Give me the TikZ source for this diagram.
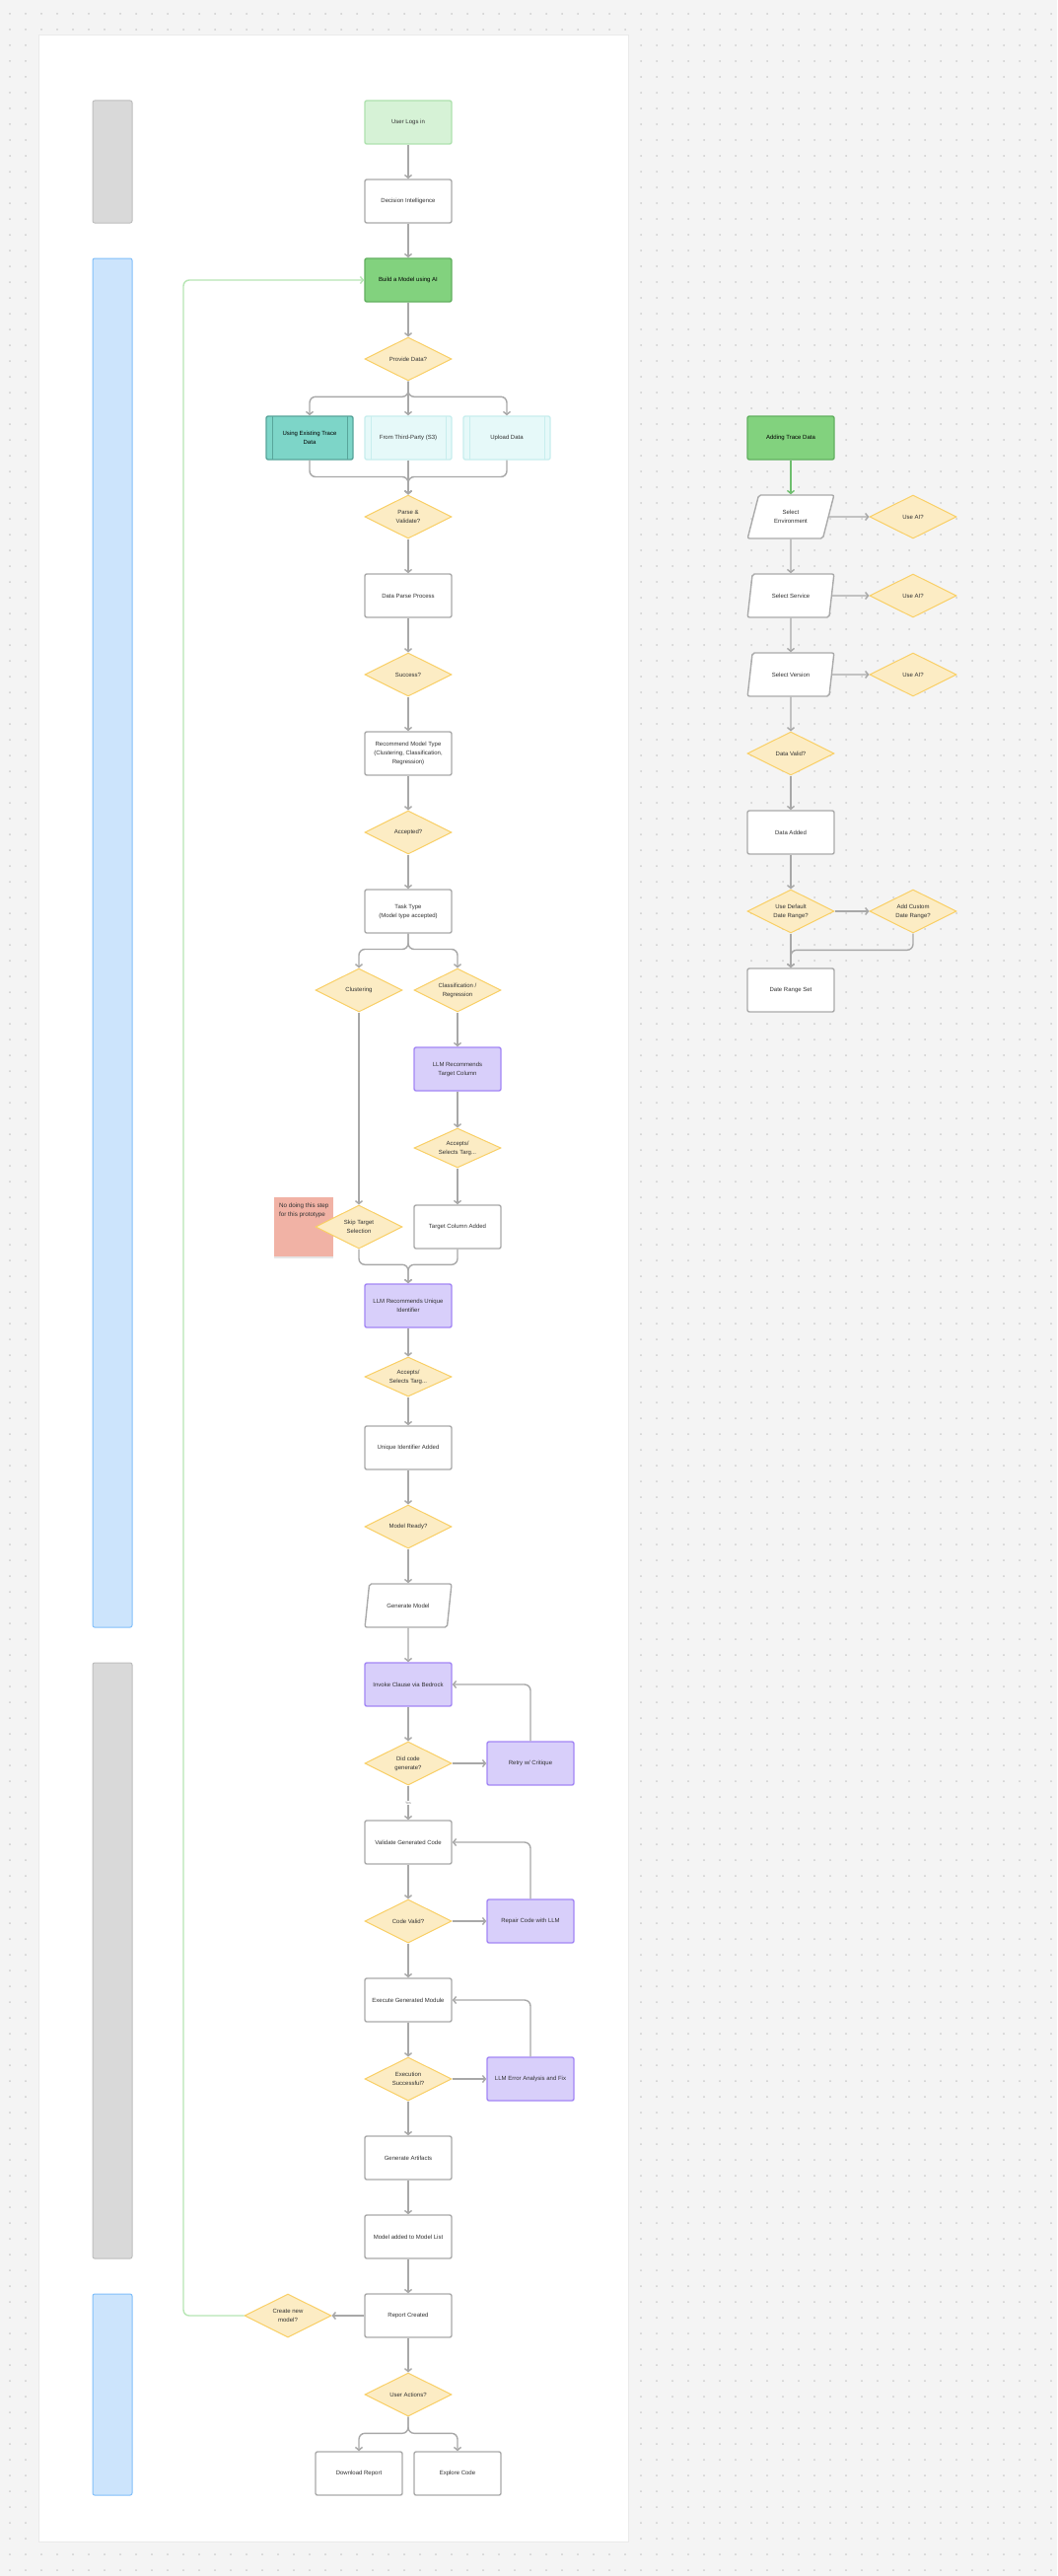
\documentclass[tikz,border=0pt]{standalone}
\usepackage{fontspec}
\setmainfont{Liberation Sans}
\usetikzlibrary{arrows.meta, shapes.geometric, shadows}
\definecolor{bg}{RGB}{244,244,244}
\definecolor{dotc}{RGB}{205,205,205}
\definecolor{panelline}{RGB}{234,234,234}
\definecolor{linegray}{RGB}{168,168,168}
\definecolor{boxline}{RGB}{170,170,170}
\definecolor{ink}{RGB}{51,51,51}
\definecolor{askfill}{RGB}{252,236,196}
\definecolor{askline}{RGB}{249,207,101}
\definecolor{startfill}{RGB}{214,242,214}
\definecolor{startline}{RGB}{175,226,175}
\definecolor{actfill}{RGB}{130,210,126}
\definecolor{actline}{RGB}{98,176,96}
\definecolor{tealfill}{RGB}{125,213,200}
\definecolor{tealline}{RGB}{88,165,155}
\definecolor{cyanfill}{RGB}{230,249,249}
\definecolor{cyanline}{RGB}{200,238,238}
\definecolor{llmfill}{RGB}{216,207,250}
\definecolor{llmline}{RGB}{163,134,245}
\definecolor{grayfill}{RGB}{217,217,217}
\definecolor{grayline}{RGB}{190,190,190}
\definecolor{bluefill}{RGB}{204,228,252}
\definecolor{blueline}{RGB}{130,192,250}
\definecolor{notefill}{RGB}{241,178,165}
\definecolor{loopgreen}{RGB}{183,230,180}
\definecolor{greenline}{RGB}{110,190,110}

\begin{document}
\begin{tikzpicture}[x=1pt,y=-1pt,->,>={Straight Barb[length=3pt,width=7pt]},
                    line width=1.4pt,font=\fontsize{6}{9}\selectfont]
  \tikzstyle{every edge}=[draw=linegray]
  \tikzstyle{link}=[draw=linegray,rounded corners=6]
  \tikzstyle{loopback}=[draw=loopgreen,rounded corners=6]
  \tikzstyle{box}=[rectangle,rounded corners=2,draw=boxline,fill=white,text=ink,
                   minimum width=88,minimum height=44,inner sep=2,align=center]
  \tikzstyle{start}=[box,draw=startline,fill=startfill]
  \tikzstyle{action}=[box,draw=actline,fill=actfill,text=black]
  \tikzstyle{llm}=[box,draw=llmline,fill=llmfill]
  \tikzstyle{ask}=[diamond,aspect=2,draw=askline,fill=askfill,line width=1pt,text=ink,
                   minimum width=88,minimum height=44,inner sep=0,align=center]
  \tikzstyle{inputbox}=[trapezium,trapezium left angle=68,trapezium right angle=112,
                   trapezium stretches=true,rounded corners=2,draw=boxline,fill=white,
                   text=ink,minimum width=88,minimum height=44,inner sep=1,align=center]
  \tikzstyle{tealsource}=[box,draw=tealline,fill=tealfill,text=black,
                   path picture={\draw[-,line width=1pt,tealline]
                     ([xshift=6pt]path picture bounding box.north west) -- ([xshift=6pt]path picture bounding box.south west)
                     ([xshift=-6pt]path picture bounding box.north east) -- ([xshift=-6pt]path picture bounding box.south east);}]
  \tikzstyle{cyansource}=[box,draw=cyanline,fill=cyanfill,
                   path picture={\draw[-,line width=1pt,cyanline]
                     ([xshift=6pt]path picture bounding box.north west) -- ([xshift=6pt]path picture bounding box.south west)
                     ([xshift=-6pt]path picture bounding box.north east) -- ([xshift=-6pt]path picture bounding box.south east);}]
  \tikzstyle{lane}=[rectangle,rounded corners=2,line width=1pt,minimum width=40]
  \tikzstyle{sticky}=[rectangle,fill=notefill,minimum size=60,
                   drop shadow={opacity=0.2,shadow xshift=0pt,shadow yshift=-1.5pt}]
  \tikzstyle{notetext}=[align=left,text=ink,inner sep=0,font=\fontsize{6.3}{9}\selectfont]
  \tikzstyle{yes}=[fill=white,inner sep=1,text=gray,font=\fontsize{3.5}{4}\selectfont]

  \useasboundingbox (0,0) rectangle (1072,2612);
  \fill[bg] (0,0) rectangle (1072,2612);
  \foreach \r in {0,...,162}
    \draw[-,dotc,line width=2pt,line cap=round,dash pattern=on 0pt off 16pt] (10,{14+16*\r}) -- (1072,{14+16*\r});
  \filldraw[-,fill=white,draw=panelline,line width=0.6pt] (39,35) rectangle (637,2577);

  \node[lane,fill=grayfill,draw=grayline,minimum height=124]  (lanea) at (114,164)  {};
  \node[lane,fill=bluefill,draw=blueline,minimum height=1388] (laneb) at (114,956)  {};
  \node[lane,fill=grayfill,draw=grayline,minimum height=604]  (lanec) at (114,1988) {};
  \node[lane,fill=bluefill,draw=blueline,minimum height=204]  (laned) at (114,2428) {};

  \node[start]      (login)        at (414,124)  {User Logs in};
  \node[box]        (decision)     at (414,204)  {Decision Intelligence};
  \node[action]     (build)        at (414,284)  {Build a Model using AI};
  \node[ask]        (provide)      at (414,364)  {Provide Data?};
  \node[tealsource] (existing)     at (314,444)  {Using Existing Trace\\Data};
  \node[cyansource] (thirdparty)   at (414,444)  {From Third-Party (S3)};
  \node[cyansource] (upload)       at (514,444)  {Upload Data};
  \node[ask]        (parse)        at (414,524)  {Parse \&\\Validate?};
  \node[box]        (parseproc)    at (414,604)  {Data Parse Process};
  \node[ask]        (success)      at (414,684)  {Success?};
  \node[box]        (recommend)    at (414,764)  {Recommend Model Type\\(Clustering, Classification,\\Regression)};
  \node[ask]        (accepted)     at (414,844)  {Accepted?};
  \node[box]        (tasktype)     at (414,924)  {Task Type\\(Model type accepted)};
  \node[ask]        (clustering)   at (364,1004) {Clustering};
  \node[ask]        (classreg)     at (464,1004) {Classification /\\Regression};
  \node[llm]        (llmtarget)    at (464,1084) {LLM Recommends\\Target Column};
  \node[ask,minimum height=40] (accepttarget) at (464,1164) {Accepts/\\Selects Targ...};
  \node[box]        (targetadded)  at (464,1244) {Target Column Added};
  \node[sticky]     (note)         at (308,1244) {};
  \node[notetext,anchor=north west] (notetxt) at ([shift={(5pt,-6pt)}]note.north west) {No doing this step\\for this prototype};
  \node[ask]        (skip)         at (364,1244) {Skip Target\\Selection};
  \node[llm]        (llmunique)    at (414,1324) {LLM Recommends Unique\\Identifier};
  \node[ask,minimum height=40] (acceptunique) at (414,1396) {Accepts/\\Selects Targ...};
  \node[box]        (uniqueadded)  at (414,1468) {Unique Identifier Added};
  \node[ask]        (ready)        at (414,1548) {Model Ready?};
  \node[inputbox]   (generate)     at (414,1628) {Generate Model};
  \node[llm]        (invoke)       at (414,1708) {Invoke Clause via Bedrock};
  \node[ask]        (didcode)      at (414,1788) {Did code\\generate?};
  \node[llm]        (retry)        at (538,1788) {Retry w/ Critique};
  \node[box]        (validate)     at (414,1868) {Validate Generated Code};
  \node[ask]        (codevalid)    at (414,1948) {Code Valid?};
  \node[llm]        (repair)       at (538,1948) {Repair Code with LLM};
  \node[box]        (execute)      at (414,2028) {Execute Generated Module};
  \node[ask]        (execok)       at (414,2108) {Execution\\Successful?};
  \node[llm]        (errorfix)     at (538,2108) {LLM Error Analysis and Fix};
  \node[box]        (artifacts)    at (414,2188) {Generate Artifacts};
  \node[box]        (modellist)    at (414,2268) {Model added to Model List};
  \node[box]        (report)       at (414,2348) {Report Created};
  \node[ask]        (newmodel)     at (292,2348) {Create new\\model?};
  \node[ask]        (useractions)  at (414,2428) {User Actions?};
  \node[box]        (download)     at (364,2508) {Download Report};
  \node[box]        (explore)      at (464,2508) {Explore Code};
  \coordinate       (bend)         at (186,284);

  \node[action]     (addtrace)     at (802,444)  {Adding Trace Data};
  \node[inputbox]   (env)          at (802,524)  {Select\\Environment};
  \node[inputbox]   (service)      at (802,604)  {Select Service};
  \node[inputbox]   (version)      at (802,684)  {Select Version};
  \node[ask]        (aienv)        at (926,524)  {Use AI?};
  \node[ask]        (aiservice)    at (926,604)  {Use AI?};
  \node[ask]        (aiversion)    at (926,684)  {Use AI?};
  \node[ask]        (valid)        at (802,764)  {Data Valid?};
  \node[box]        (added)        at (802,844)  {Data Added};
  \node[ask]        (default)      at (802,924)  {Use Default\\Date Range?};
  \node[ask]        (custom)       at (926,924)  {Add Custom\\Date Range?};
  \node[box]        (rangeset)     at (802,1004) {Date Range Set};

  \path (login)        edge (decision)
        (decision)     edge (build)
        (build)        edge (provide)
        (provide)      edge (thirdparty)
        (thirdparty)   edge (parse)
        (parse)        edge (parseproc)
        (parseproc)    edge (success)
        (success)      edge (recommend)
        (recommend)    edge (accepted)
        (accepted)     edge (tasktype)
        (clustering)   edge (skip)
        (classreg)     edge (llmtarget)
        (llmtarget)    edge (accepttarget)
        (accepttarget) edge (targetadded)
        (llmunique)    edge (acceptunique)
        (acceptunique) edge (uniqueadded)
        (uniqueadded)  edge (ready)
        (ready)        edge (generate)
        (generate)     edge (invoke)
        (invoke)       edge (didcode)
        (didcode)      edge (retry)
                       edge node[yes] {Yes} (validate)
        (validate)     edge (codevalid)
        (codevalid)    edge (repair)
                       edge (execute)
        (execute)      edge (execok)
        (execok)       edge (errorfix)
                       edge (artifacts)
        (artifacts)    edge (modellist)
        (modellist)    edge (report)
        (report)       edge (newmodel)
                       edge (useractions);

  \path (addtrace)     edge[draw=greenline] (env)
        (env)          edge (aienv)
                       edge (service)
        (service)      edge (aiservice)
                       edge (version)
        (version)      edge (aiversion)
                       edge (valid)
        (valid)        edge (added)
        (added)        edge (default)
        (default)      edge (custom)
                       edge (rangeset);

  \draw[link] (provide.south) |- ([yshift=19pt]existing.north) -- (existing.north);
  \draw[link] (provide.south) |- ([yshift=19pt]upload.north) -- (upload.north);
  \draw[link] (existing.south) |- ([yshift=18pt]parse.north) -- (parse.north);
  \draw[link] (upload.south) |- ([yshift=18pt]parse.north) -- (parse.north);
  \draw[link] (tasktype.south) |- ([yshift=19pt]clustering.north) -- (clustering.north);
  \draw[link] (tasktype.south) |- ([yshift=19pt]classreg.north) -- (classreg.north);
  \draw[link] (skip.south) |- ([yshift=19pt]llmunique.north) -- (llmunique.north);
  \draw[link] (targetadded.south) |- ([yshift=19pt]llmunique.north) -- (llmunique.north);
  \draw[link] (retry.north) |- (invoke.east);
  \draw[link] (repair.north) |- (validate.east);
  \draw[link] (errorfix.north) |- (execute.east);
  \draw[link] (useractions.south) |- ([yshift=18pt]download.north) -- (download.north);
  \draw[link] (useractions.south) |- ([yshift=18pt]explore.north) -- (explore.north);
  \draw[link] (custom.south) |- ([yshift=18pt]rangeset.north) -- (rangeset.north);
  \draw[loopback] (newmodel.west) -| (bend) -- (build.west);
\end{tikzpicture}
\end{document}
